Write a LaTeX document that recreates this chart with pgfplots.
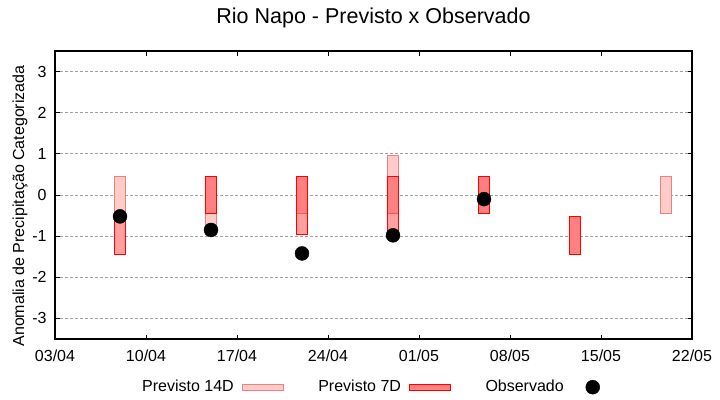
\documentclass[border=0pt]{standalone}
\usepackage{fontspec}
\setmainfont{Liberation Sans}
\usepackage{pgfplots}
\pgfplotsset{compat=1.18}

\definecolor{lightbox}{HTML}{FFCCC7}
\definecolor{darkbox}{HTML}{FF8080}
\definecolor{midbox}{HTML}{FFA0A0}
\definecolor{salmonline}{HTML}{F08080}
\definecolor{innerline}{HTML}{F05A5A}
\definecolor{gridgray}{HTML}{A0A0A0}

% one box segment: x left, x right, y low, y high, style
\newcommand{\seg}[5]{%
\addplot[#5, line width=1bp, forget plot] coordinates {(#1,#3) (#2,#3) (#2,#4) (#1,#4) (#1,#3)} -- cycle;
}
\newcommand{\segline}[4]{%
\addplot[#4, line width=1bp, forget plot] coordinates {(#1,#3) (#2,#3)};
}

\begin{document}
\begin{tikzpicture}
\begin{axis}[
  at={(0,0)}, anchor=south west,
  scale only axis,
  width=637bp, height=288bp,
  xmin=0, xmax=49,
  ymin=-3.5, ymax=3.5,
  xtick={0,7,14,21,28,35,42,49},
  xticklabels={03/04,10/04,17/04,24/04,01/05,08/05,15/05,22/05},
  ytick={-3,-2,-1,0,1,2,3},
  tick align=inside,
  major tick length=4.5bp,
  axis line style={line width=1.2bp},
  tick style={line width=1bp, black},
  ymajorgrids,
  grid style={gridgray, line width=1bp, dash pattern=on 2.5bp off 2.5bp},
  tick label style={font=\fontsize{16bp}{19bp}\selectfont},
  /pgf/number format/assume math mode=true,
  xticklabel style={yshift=-7bp},
  yticklabel style={xshift=-5bp},
  ylabel={Anomalia de Precipitação Categorizada},
  every axis y label/.style={at={(axis description cs:-0.055,0.462)}, rotate=90, anchor=center,
    font=\fontsize{16bp}{19bp}\selectfont},
  title={Rio Napo - Previsto x Observado},
  title style={font=\fontsize{21.5bp}{25bp}\selectfont, at={(axis description cs:0.5,1)}, anchor=base, yshift=22bp},
  legend columns=3,
  legend plot pos=right,
  legend style={draw=none, fill=none, inner sep=0pt,
    at={(axis description cs:0.1366,-0.1667)}, anchor=west,
    font=\fontsize{16bp}{19bp}\selectfont,
    nodes={inner sep=0pt},
    /tikz/every odd column/.append style={column sep=8bp},
    /tikz/every even column/.append style={column sep=34.5bp}},
]

% 08/04
\seg{4.54}{5.46}{-0.45}{0.45}{fill=lightbox, draw=salmonline}
\seg{4.54}{5.46}{-1.45}{-0.45}{fill=midbox, draw=red}
% 15/04
\seg{11.54}{12.46}{-0.95}{-0.45}{fill=lightbox, draw=salmonline}
\seg{11.54}{12.46}{-0.45}{0.45}{fill=darkbox, draw=red}
% 22/04
\seg{18.54}{19.46}{-0.45}{0.45}{fill=darkbox, draw=none}
\seg{18.54}{19.46}{-0.95}{-0.45}{fill=midbox, draw=none}
\segline{18.54}{19.46}{-0.45}{innerline}
\seg{18.54}{19.46}{-0.95}{0.45}{draw=red}
% 29/04
\seg{25.54}{26.46}{0.45}{0.95}{fill=lightbox, draw=salmonline}
\seg{25.54}{26.46}{-0.45}{0.45}{fill=darkbox, draw=none}
\seg{25.54}{26.46}{-0.95}{-0.45}{fill=midbox, draw=none}
\segline{25.54}{26.46}{-0.45}{innerline}
\seg{25.54}{26.46}{-0.95}{0.45}{draw=red}
% 06/05
\seg{32.54}{33.46}{-0.45}{0.45}{fill=darkbox, draw=red}
% 13/05
\seg{39.54}{40.46}{-1.45}{-0.52}{fill=darkbox, draw=red}
% 20/05
\seg{46.54}{47.46}{-0.45}{0.45}{fill=lightbox, draw=salmonline}

% observado
\addplot[only marks, mark=*, mark size=7bp, black, forget plot]
  coordinates {(5,-0.52) (12,-0.85) (19,-1.42) (26,-0.98) (33,-0.10)};

\addlegendimage{legend image code/.code={\draw[fill=lightbox, draw=salmonline, line width=1bp] (0bp,-4bp) rectangle (41bp,2bp);}}
\addlegendentry{Previsto 14D}
\addlegendimage{legend image code/.code={\draw[fill=darkbox, draw=red, line width=1bp] (0bp,-4bp) rectangle (41bp,2bp);}}
\addlegendentry{Previsto 7D}
\addlegendimage{legend image code/.code={\path[draw=none, fill=none] (0bp,-4bp) rectangle (41bp,2bp); \fill[black] (21bp,-1bp) circle (7bp);}}
\addlegendentry{Observado}
\end{axis}
\pgfresetboundingbox
\path[use as bounding box] (-55bp,-61bp) rectangle (665bp,339bp);
\end{tikzpicture}
\end{document}
